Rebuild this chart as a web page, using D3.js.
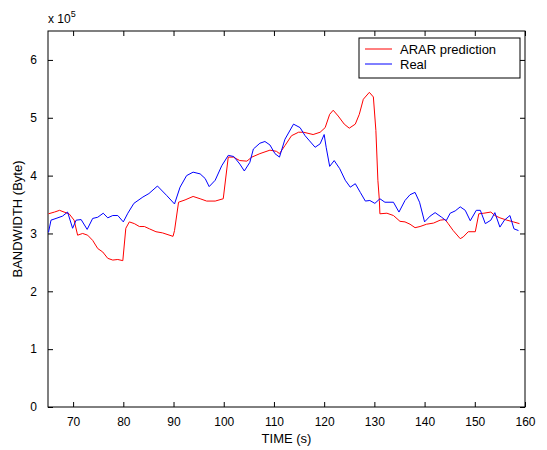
<!DOCTYPE html>
<html>
<head>
<meta charset="utf-8">
<script src="https://cdn.jsdelivr.net/npm/d3@7"></script>
<style>
  body { margin: 0; background: #fff; }
  text { font-family: "Liberation Sans", Arial, sans-serif; fill: #000; }
</style>
</head>
<body>
<div id="chart"></div>
<script>
// data, bandwidth in units of 1e5 bytes
const predTime = [65.1, 66.3, 67.3, 68.2, 69.2, 70.2, 70.9, 71.9, 72.9, 73.9, 74.9, 75.9, 76.9, 77.9, 78.9, 79.9,
  80.5, 81.2, 82.2, 83.2, 84.2, 85.2, 86.5, 87.8, 89.9, 90.2, 91.0, 92.3, 93.9, 95.3, 96.6, 98.3, 99.9,
  100.9, 101.9, 103.2, 104.6, 105.6, 107.2, 109.2, 110.5, 111.1, 112.2, 113.5, 114.9, 115.9, 117.8, 119.2,
  120.2, 121.1, 121.8, 122.8, 124.0, 125.0, 126.2, 127.0, 127.8, 129.0, 129.8, 130.3, 130.7, 131.0, 131.1,
  132.5, 133.8, 135.1, 136.1, 137.1, 138.1, 139.1, 140.4, 141.8, 143.1, 144.1, 144.7, 145.7, 147.1, 147.7,
  148.7, 150.1, 150.8, 151.8, 153.2, 154.0, 155.0, 156.4, 157.7, 158.9];
const predBw = [3.34, 3.37, 3.40, 3.37, 3.34, 3.23, 2.97, 3.00, 2.97, 2.88, 2.74, 2.68, 2.57, 2.54, 2.55, 2.53,
  3.09, 3.20, 3.17, 3.12, 3.12, 3.08, 3.03, 3.01, 2.95, 3.05, 3.54, 3.58, 3.64, 3.60, 3.56, 3.56, 3.60,
  4.32, 4.32, 4.26, 4.25, 4.32, 4.38, 4.44, 4.42, 4.38, 4.52, 4.69, 4.75, 4.75, 4.71, 4.75,
  4.83, 5.06, 5.13, 5.03, 4.89, 4.82, 4.89, 5.06, 5.32, 5.44, 5.36, 4.78, 3.92, 3.57, 3.34,
  3.35, 3.31, 3.21, 3.20, 3.16, 3.10, 3.12, 3.16, 3.18, 3.23, 3.24, 3.17, 3.05, 2.91, 2.94,
  3.03, 3.03, 3.34, 3.35, 3.37, 3.31, 3.27, 3.23, 3.20, 3.17];

const realTime = [65.1, 65.6, 66.6, 67.9, 68.9, 69.9, 70.6, 71.6, 72.8, 73.9, 74.9, 76.0, 76.9, 77.9, 78.9, 80.0,
  80.9, 82.1, 83.9, 85.1, 86.8, 88.6, 90.2, 91.3, 92.6, 93.9, 95.3, 96.3, 97.1, 98.3, 99.6,
  100.9, 102.0, 103.2, 104.1, 105.2, 105.9, 107.2, 108.2, 109.2, 110.2, 111.1, 112.2, 113.9, 115.2, 116.2,
  117.1, 118.2, 119.2, 120.0, 120.4, 121.1, 122.0, 123.1, 124.2, 125.2, 126.2, 127.2, 128.2, 129.1, 130.1,
  131.1, 132.1, 133.8, 134.9, 136.1, 137.1, 138.1, 139.0, 140.0, 141.1, 142.1, 143.4, 144.3, 145.1, 146.1,
  147.1, 148.1, 149.1, 150.3, 151.1, 152.1, 153.2, 154.0, 155.0, 155.9, 157.0, 157.8, 158.7];
const realBw = [3.02, 3.23, 3.26, 3.30, 3.37, 3.09, 3.23, 3.24, 3.07, 3.26, 3.28, 3.35, 3.27, 3.31, 3.31, 3.20,
  3.35, 3.52, 3.63, 3.69, 3.82, 3.66, 3.51, 3.80, 4.00, 4.06, 4.03, 3.95, 3.81, 3.92, 4.17,
  4.35, 4.33, 4.20, 4.08, 4.23, 4.46, 4.56, 4.59, 4.53, 4.38, 4.32, 4.63, 4.89, 4.83, 4.69,
  4.60, 4.49, 4.55, 4.71, 4.49, 4.16, 4.26, 4.12, 3.92, 3.80, 3.86, 3.71, 3.56, 3.57, 3.52,
  3.60, 3.54, 3.54, 3.37, 3.57, 3.67, 3.71, 3.54, 3.20, 3.30, 3.36, 3.28, 3.22, 3.35, 3.39,
  3.46, 3.40, 3.22, 3.40, 3.40, 3.17, 3.23, 3.36, 3.11, 3.23, 3.31, 3.08, 3.05];

const xTicks = [70, 80, 90, 100, 110, 120, 130, 140, 150, 160];
const yTicks = [0, 1, 2, 3, 4, 5, 6];
const seriesNames = ["ARAR prediction", "Real"];
const seriesColors = ["#ff0000", "#0000ff"];

const width = 547, height = 450;
const margin = { top: 31, right: 22, bottom: 43, left: 48 };

const svg = d3.select("#chart").append("svg")
  .attr("width", width)
  .attr("height", height);

const x = d3.scaleLinear()
  .domain([65, 160])
  .range([margin.left, width - margin.right]);

const y = d3.scaleLinear()
  .domain([0, 6.5])
  .range([height - margin.bottom, margin.top]);

// axes, matlab style: ticks pointing in, box all round
const tickLen = 5;
svg.append("g")
  .attr("transform", `translate(0,${y(0)})`)
  .call(d3.axisBottom(x).tickValues(xTicks).tickSizeInner(-tickLen).tickSizeOuter(0).tickPadding(10))
  .call(g => g.select(".domain").remove());

svg.append("g")
  .attr("transform", `translate(0,${y(6.5)})`)
  .call(d3.axisTop(x).tickValues(xTicks).tickSizeInner(-tickLen).tickSizeOuter(0).tickFormat(""))
  .call(g => g.select(".domain").remove());

svg.append("g")
  .attr("transform", `translate(${x(65)},0)`)
  .call(d3.axisLeft(y).tickValues(yTicks).tickFormat(d3.format("d"))
    .tickSizeInner(-tickLen).tickSizeOuter(0).tickPadding(11))
  .call(g => g.select(".domain").remove());

svg.append("g")
  .attr("transform", `translate(${x(160)},0)`)
  .call(d3.axisRight(y).tickValues(yTicks).tickSizeInner(-tickLen).tickSizeOuter(0).tickFormat(""))
  .call(g => g.select(".domain").remove());

svg.selectAll(".tick text")
  .style("font-family", "'Liberation Sans', Arial, sans-serif")
  .style("font-size", "12px");

svg.append("rect")
  .attr("x", x(65)).attr("y", y(6.5))
  .attr("width", x(160) - x(65)).attr("height", y(0) - y(6.5))
  .attr("fill", "none").attr("stroke", "#000").attr("stroke-width", 1);

// lines
const line = d3.line()
  .x(d => x(d[0]))
  .y(d => y(d[1]));

const predData = predTime.map((t, i) => [t, predBw[i]]);
const realData = realTime.map((t, i) => [t, realBw[i]]);

svg.append("path")
  .datum(predData)
  .attr("d", line)
  .attr("fill", "none")
  .attr("stroke", seriesColors[0])
  .attr("stroke-width", 1);

svg.append("path")
  .datum(realData)
  .attr("d", line)
  .attr("fill", "none")
  .attr("stroke", seriesColors[1])
  .attr("stroke-width", 1);

// exponent label
const expo = svg.append("text")
  .attr("x", x(65))
  .attr("y", 23)
  .style("font-size", "12px");
expo.append("tspan").text("x 10");
expo.append("tspan").attr("dy", -6).style("font-size", "9px").text("5");

// axis labels
svg.append("text")
  .attr("x", (x(65) + x(160)) / 2)
  .attr("y", 443)
  .attr("text-anchor", "middle")
  .style("font-size", "13px")
  .text("TIME (s)");

svg.append("text")
  .attr("transform", `translate(22,${(y(0) + y(6.5)) / 2}) rotate(-90)`)
  .attr("text-anchor", "middle")
  .style("font-size", "13px")
  .text("BANDWIDTH (Byte)");

// legend
const legend = svg.append("g").attr("transform", "translate(359,38)");
legend.append("rect")
  .attr("width", 161).attr("height", 40)
  .attr("fill", "#fff").attr("stroke", "#000");

seriesNames.forEach((name, i) => {
  legend.append("line")
    .attr("x1", 6).attr("x2", 33)
    .attr("y1", 11 + i * 15).attr("y2", 11 + i * 15)
    .attr("stroke", seriesColors[i]);
  legend.append("text")
    .attr("x", 41).attr("y", 15.5 + i * 15)
    .style("font-size", "13px")
    .text(name);
});
</script>
</body>
</html>
